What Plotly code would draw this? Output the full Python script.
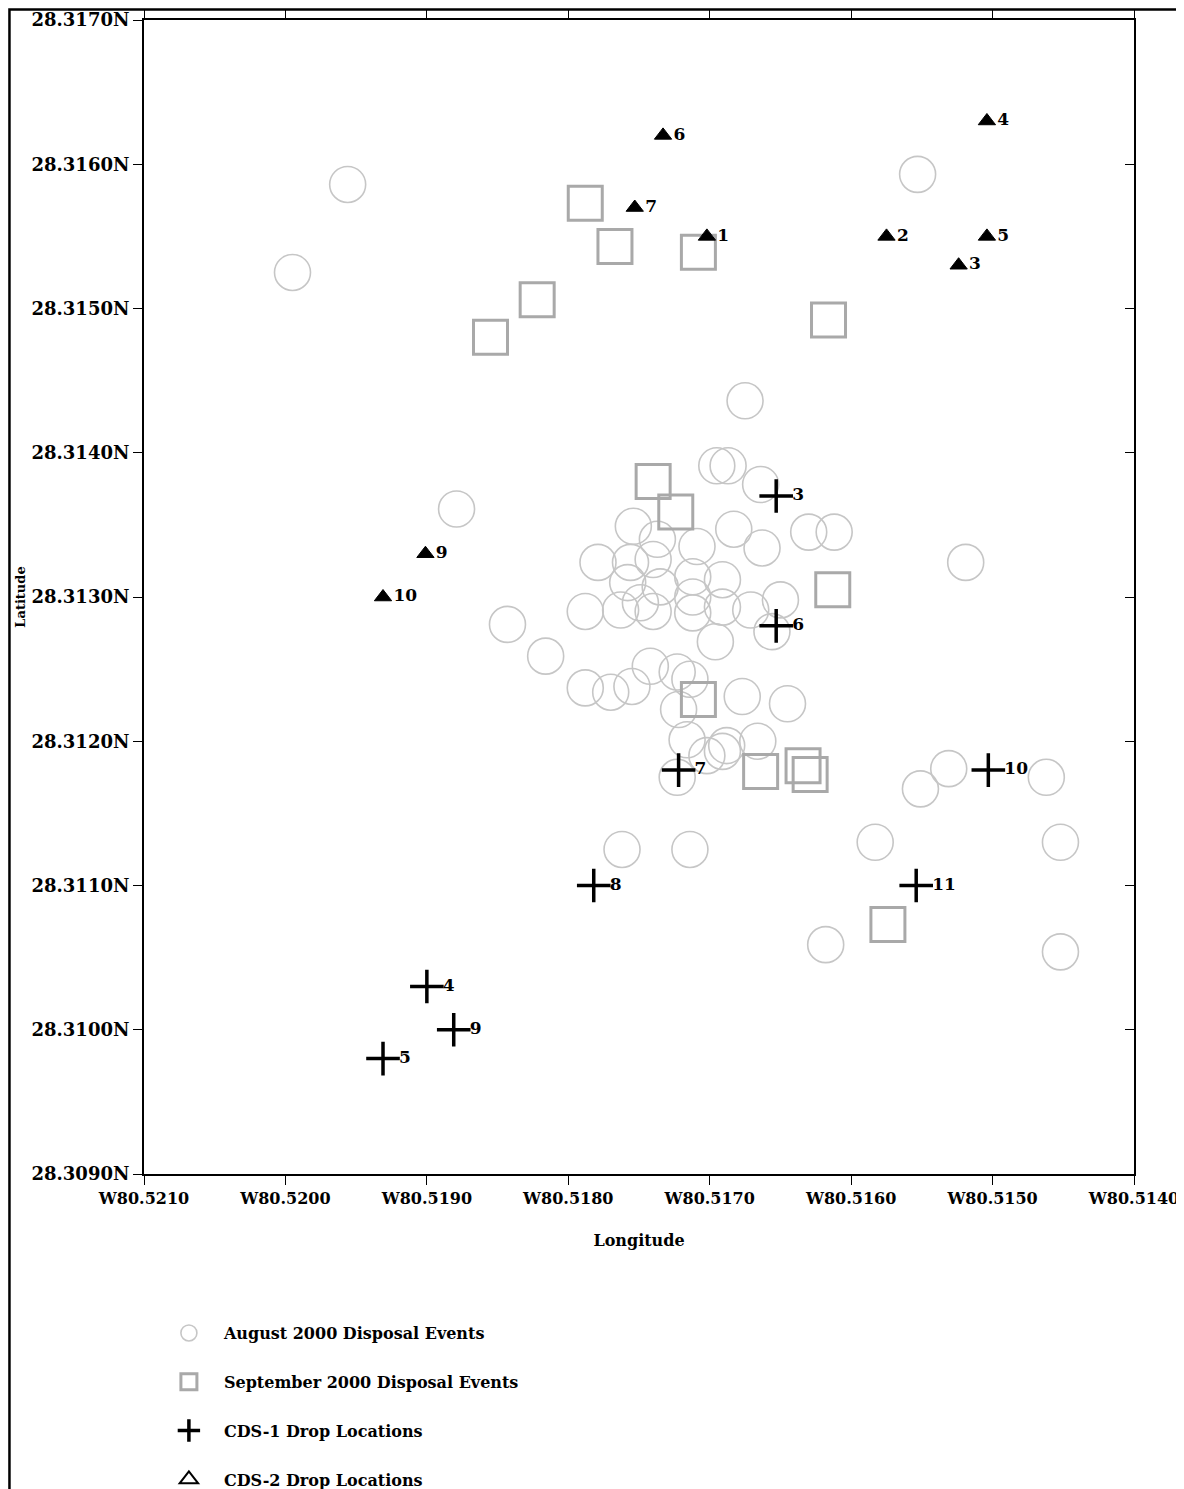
import plotly.graph_objects as go

# ---------------- data ----------------
aug_lon = [-80.51956, -80.51995, -80.51553, -80.51675, -80.51879, -80.51519, -80.51843, -80.51816,
           -80.51762, -80.51714, -80.51583, -80.51618, -80.51551, -80.51531, -80.51462, -80.51452,
           -80.51452, -80.51723, -80.51695, -80.51687, -80.51664, -80.51754, -80.51779, -80.51737,
           -80.51709, -80.51683, -80.51663, -80.51630, -80.51612, -80.51756, -80.51758, -80.51740,
           -80.51735, -80.51712, -80.51691, -80.51788, -80.51763, -80.51749, -80.51740, -80.51712,
           -80.51712, -80.51691, -80.51671, -80.51650, -80.51656, -80.51696, -80.51788, -80.51770,
           -80.51755, -80.51742, -80.51723, -80.51714, -80.51722, -80.51677, -80.51645, -80.51716,
           -80.51688, -80.51691, -80.51666, -80.51702]
aug_lat = [28.31586, 28.31525, 28.31593, 28.31436, 28.31361, 28.31324, 28.31281, 28.31259,
           28.31125, 28.31125, 28.31130, 28.31059, 28.31167, 28.31181, 28.31175, 28.31130,
           28.31054, 28.31175, 28.31391, 28.31391, 28.31378, 28.31349, 28.31324, 28.31340,
           28.31335, 28.31347, 28.31334, 28.31345, 28.31345, 28.31324, 28.31310, 28.31326,
           28.31307, 28.31314, 28.31312, 28.31290, 28.31291, 28.31296, 28.31290, 28.31300,
           28.31289, 28.31293, 28.31291, 28.31298, 28.31276, 28.31269, 28.31237, 28.31234,
           28.31238, 28.31252, 28.31248, 28.31243, 28.31222, 28.31231, 28.31226, 28.31201,
           28.31197, 28.31193, 28.31200, 28.31190]

sep_lon = [-80.51788, -80.51767, -80.51708, -80.51822, -80.51855, -80.51616, -80.51740,
           -80.51724, -80.51613, -80.51708, -80.51664, -80.51634, -80.51629, -80.51574]
sep_lat = [28.31573, 28.31543, 28.31539, 28.31506, 28.31480, 28.31492, 28.31380,
           28.31359, 28.31305, 28.31229, 28.31179, 28.31183, 28.31177, 28.31073]

cds1_lon = [-80.51653, -80.51653, -80.51722, -80.51503, -80.51782, -80.51554, -80.51900, -80.51881, -80.51931]
cds1_lat = [28.3137, 28.3128, 28.3118, 28.3118, 28.3110, 28.3110, 28.3103, 28.3100, 28.3098]
cds1_labels = ["3", "6", "7", "10", "8", "11", "4", "9", "5"]

cds2_lon = [-80.51702, -80.51575, -80.51524, -80.51504, -80.51504, -80.51733, -80.51753, -80.51901, -80.51931]
cds2_lat = [28.3155, 28.3155, 28.3153, 28.3163, 28.3155, 28.3162, 28.3157, 28.3133, 28.3130]
cds2_labels = ["1", "2", "3", "4", "5", "6", "7", "9", "10"]

x_tickvals = [-80.5210, -80.5200, -80.5190, -80.5180, -80.5170, -80.5160, -80.5150, -80.5140]
x_ticktext = ["W80.5210", "W80.5200", "W80.5190", "W80.5180", "W80.5170", "W80.5160", "W80.5150", "W80.5140"]
y_tickvals = [28.3090, 28.3100, 28.3110, 28.3120, 28.3130, 28.3140, 28.3150, 28.3160, 28.3170]
y_ticktext = ["28.3090N", "28.3100N", "28.3110N", "28.3120N", "28.3130N", "28.3140N", "28.3150N", "28.3160N", "28.3170N"]

x_range = [-80.5210, -80.5140]
y_range = [28.3090, 28.3170]

# ---------------- figure ----------------
FONT = "DejaVu Serif"
bold = lambda s: dict(family=FONT, size=s, color="black", weight="bold")

fig = go.Figure()

fig.add_trace(go.Scatter(
    x=aug_lon, y=aug_lat, mode="markers", name="August 2000 Disposal Events",
    legendgroup="a",
    marker=dict(symbol="circle-open", size=36, color="#c6c6c6", line=dict(width=1.6, color="#c6c6c6")),
))
fig.add_trace(go.Scatter(
    x=sep_lon, y=sep_lat, mode="markers", name="September 2000 Disposal Events",
    legendgroup="b",
    marker=dict(symbol="square-open", size=34, color="#a9a9a9", line=dict(width=3, color="#a9a9a9")),
))
fig.add_trace(go.Scatter(
    x=cds1_lon, y=cds1_lat, mode="markers+text", name="CDS-1 Drop Locations",
    legendgroup="c",
    text=cds1_labels, textposition="middle right", textfont=bold(17),
    marker=dict(symbol="cross-thin", size=24, color="black", line=dict(width=3.5, color="black")),
))
fig.add_trace(go.Scatter(
    x=cds2_lon, y=cds2_lat, mode="markers+text", name="CDS-2 Drop Locations",
    legendgroup="d", showlegend=False,
    text=cds2_labels, textposition="middle right", textfont=bold(17),
    marker=dict(symbol="triangle-up", size=15, color="black", line=dict(width=1, color="black")),
))
# legend entry for CDS-2 (open triangle, as in the printed key)
fig.add_trace(go.Scatter(
    x=[None], y=[None], mode="markers", name="CDS-2 Drop Locations",
    legendgroup="d", hoverinfo="skip",
    marker=dict(symbol="triangle-up-open", size=16, color="black", line=dict(width=2, color="black")),
))
# empty trace to carry the right-hand (inside-tick) axis
fig.add_trace(go.Scatter(x=[], y=[], yaxis="y2", showlegend=False, hoverinfo="skip"))

fig.update_layout(
    width=1176, height=1530,
    margin=dict(l=136, r=50, t=12, b=364),
    paper_bgcolor="white", plot_bgcolor="white",
    font=dict(family=FONT, color="black"),
    xaxis=dict(
        range=x_range, tickvals=x_tickvals, ticktext=x_ticktext, automargin=False,
        ticks="outside", ticklen=9, tickwidth=1, tickcolor="black",
        showline=True, linecolor="black", linewidth=2, mirror="ticks",
        showgrid=False, zeroline=False, tickfont=bold(16),
        title=dict(text="Longitude", font=bold(16), standoff=28),
    ),
    yaxis=dict(
        range=y_range, tickvals=y_tickvals, ticktext=y_ticktext, automargin=False,
        ticks="outside", ticklen=9, tickwidth=1, tickcolor="black",
        showline=True, linecolor="black", linewidth=2, mirror=True,
        showgrid=False, zeroline=False, tickfont=bold(18),
        title=dict(text="Latitude", font=bold(13), standoff=3),
    ),
    yaxis2=dict(
        overlaying="y", side="right", range=y_range, tickvals=y_tickvals, automargin=False,
        ticks="inside", ticklen=9, tickwidth=1, tickcolor="black",
        showticklabels=False, showline=False, showgrid=False, zeroline=False,
    ),
    legend=dict(
        x=0.010, y=-0.1231, xanchor="left", yanchor="top",
        font=bold(16), tracegroupgap=25, itemwidth=60,
        bgcolor="rgba(0,0,0,0)",
    ),
    shapes=[dict(type="rect", xref="paper", yref="paper",
                 x0=-0.1359, x1=1.0444, y0=-0.4, y1=1.0091,
                 line=dict(color="black", width=2.5), fillcolor="rgba(0,0,0,0)")],
)

fig.write_html("out.html")
